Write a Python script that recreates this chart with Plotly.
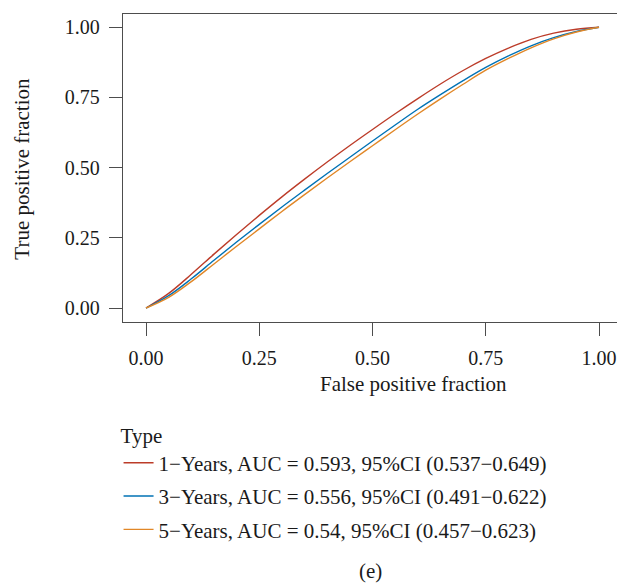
import plotly.graph_objects as go

# ROC curves (false positive fraction vs true positive fraction)
fpr = [0.0, 0.05, 0.10, 0.15, 0.20, 0.25, 0.30, 0.35, 0.40, 0.45, 0.50,
       0.55, 0.60, 0.65, 0.70, 0.75, 0.80, 0.85, 0.90, 0.95, 1.0]
tpr_1y = [0.0, 0.052, 0.120, 0.192, 0.262, 0.330, 0.396, 0.459, 0.520, 0.579, 0.636,
          0.692, 0.746, 0.798, 0.846, 0.889, 0.926, 0.957, 0.979, 0.993, 1.0]
tpr_3y = [0.0, 0.044, 0.104, 0.170, 0.235, 0.298, 0.360, 0.420, 0.479, 0.537, 0.595,
          0.652, 0.708, 0.760, 0.810, 0.857, 0.898, 0.934, 0.963, 0.985, 1.0]
tpr_5y = [0.0, 0.038, 0.094, 0.157, 0.220, 0.282, 0.344, 0.404, 0.463, 0.521, 0.578,
          0.635, 0.691, 0.745, 0.797, 0.847, 0.889, 0.927, 0.959, 0.983, 1.0]

series_names = [
    "1\u2212Years, AUC = 0.593, 95%CI (0.537\u22120.649)",
    "3\u2212Years, AUC = 0.556, 95%CI (0.491\u22120.622)",
    "5\u2212Years, AUC = 0.54, 95%CI (0.457\u22120.623)",
]
series_colors = ["#BC3C29", "#0072B5", "#E18727"]

tick_vals = [0.0, 0.25, 0.5, 0.75, 1.0]
tick_text = ["0.00", "0.25", "0.50", "0.75", "1.00"]

FONT = "Liberation Serif"
TXT = "#1a1a1a"
AXC = "#4d4d4d"

fig = go.Figure()
for name, ys, col in zip(series_names, [tpr_1y, tpr_3y, tpr_5y], series_colors):
    fig.add_trace(go.Scatter(
        x=fpr, y=ys, mode="lines", name=name, legendgroup=name,
        line=dict(color=col, width=1.4, shape="spline", smoothing=1.0),
    ))

fig.update_layout(
    width=617, height=584,
    margin=dict(l=123, r=0, t=14, b=262),
    paper_bgcolor="white", plot_bgcolor="white",
    font=dict(family=FONT, size=21, color=TXT),
    showlegend=True,
    legend=dict(
        title=dict(text="Type", side="top", font=dict(size=21, color=TXT)),
        x=-0.009, xanchor="left", y=-0.303, yanchor="top",
        bgcolor="rgba(0,0,0,0)", borderwidth=0,
        font=dict(size=21, color=TXT), tracegroupgap=3,
        itemwidth=30,
    ),
    xaxis=dict(
        range=[-0.0508, 1.0397], tickvals=tick_vals, ticktext=tick_text,
        showgrid=False, zeroline=False, showline=True, mirror=True,
        linecolor=AXC, linewidth=1.4, ticks="outside", ticklen=13,
        tickcolor=AXC, tickwidth=1.3, tickfont=dict(size=20, color=TXT),
        ticklabelstandoff=5,
    ),
    yaxis=dict(
        range=[-0.0498, 1.0473], tickvals=tick_vals, ticktext=tick_text,
        showgrid=False, zeroline=False, showline=True, mirror=False,
        linecolor=AXC, linewidth=1.4, ticks="outside", ticklen=13,
        tickcolor=AXC, tickwidth=1.3, tickfont=dict(size=20, color=TXT),
        ticklabelstandoff=5,
    ),
    annotations=[
        dict(text="False positive fraction", xref="paper", yref="paper",
             x=0.588, y=-0.20, xanchor="center", yanchor="middle",
             showarrow=False, font=dict(size=21, color=TXT)),
        dict(text="True positive fraction", xref="paper", yref="paper",
             x=-0.205, y=0.497, xanchor="center", yanchor="middle",
             textangle=-90, showarrow=False, font=dict(size=21, color=TXT)),
        dict(text="(e)", xref="paper", yref="paper",
             x=0.5, y=-0.81, xanchor="center", yanchor="middle",
             showarrow=False, font=dict(size=21, color=TXT)),
    ],
)

fig.write_html("out.html")
